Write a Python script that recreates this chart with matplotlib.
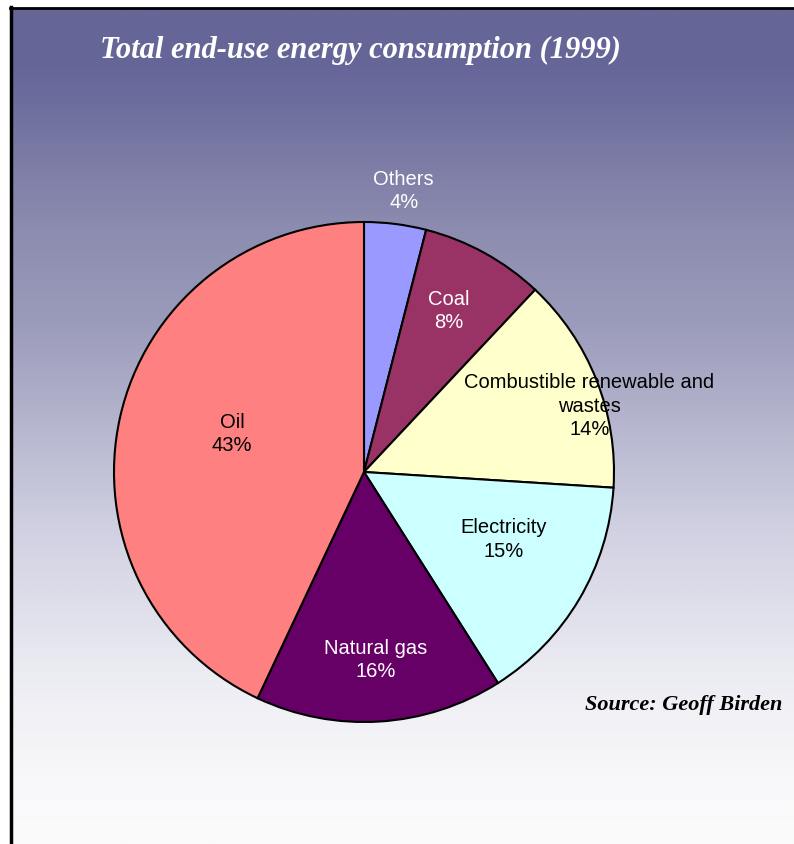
import numpy as np
import matplotlib.pyplot as plt
from matplotlib.colors import LinearSegmentedColormap
from matplotlib.lines import Line2D

# data
categories = ["Others", "Coal", "Combustible renewable and\nwastes", "Electricity",
              "Natural gas", "Oil"]
shares = [4, 8, 14, 15, 16, 43]
colors = ["#9999FF", "#993366", "#FFFFCC", "#CCFFFF", "#660066", "#FF8080"]
text_colors = ["white", "white", "black", "black", "white", "black"]

# label placement: (fraction of radius, angle in degrees)
label_pos = [(1.14, 82), (0.73, 62.5), (0.94, 16.5), (0.62, -25.5), (0.75, -86.5), (0.55, 163.5)]

W, H = 794, 845
fig = plt.figure(figsize=(W / 100, H / 100), dpi=100)
fig.patch.set_facecolor("white")

# gradient background
bg = fig.add_axes([12 / W, 0, 1 - 12 / W, (H - 10) / H])
bg.set_axis_off()
grad_cmap = LinearSegmentedColormap.from_list(
    "bg", [(0, "#656598"), (0.07, "#666699"), (0.26, "#8c8cb0"), (0.37, "#9a9aba"),
           (0.62, "#d0d0e2"), (0.8, "#ececf3"), (0.92, "#f8f8fa"), (1, "#fbfbfc")])
bg.imshow(np.linspace(0, 1, 400).reshape(-1, 1), aspect="auto", cmap=grad_cmap,
          extent=[0, 1, 0, 1], origin="upper")
bg.set_xlim(0, 1)
bg.set_ylim(0, 1)

# frame lines
fig.add_artist(Line2D([11 / W, 11 / W], [0, (H - 8) / H], color="black", lw=2.5,
                      transform=fig.transFigure))
fig.add_artist(Line2D([10 / W, 1], [(H - 9) / H, (H - 9) / H], color="black", lw=2,
                      transform=fig.transFigure))

# pie
cx, cy, r = 364, 473, 250
ax = fig.add_axes([(cx - r) / W, (H - cy - r) / H, 2 * r / W, 2 * r / H])
wedges, _ = ax.pie(shares, colors=colors, startangle=90, counterclock=False,
                   wedgeprops=dict(edgecolor="black", linewidth=1.5))
ax.set_xlim(-1, 1)
ax.set_ylim(-1, 1)
ax.set_aspect("equal")
ax.set_axis_off()

for cat, s, tc, (rr, ang) in zip(categories, shares, text_colors, label_pos):
    a = np.deg2rad(ang)
    ax.text(rr * np.cos(a), rr * np.sin(a), f"{cat}\n{s}%", ha="center", va="center",
            color=tc, fontsize=14.5, family="Liberation Sans", linespacing=1.3)

fig.text(100 / W, 1 - 50 / H, "Total end-use energy consumption (1999)", color="white",
         fontsize=22, family="Liberation Serif", weight="bold", style="italic",
         ha="left", va="center")
fig.text(782 / W, 1 - 705 / H, "Source: Geoff Birden", color="black",
         fontsize=16, family="Liberation Serif", weight="bold", style="italic",
         ha="right", va="center")

fig.savefig("out.png", dpi=100)
